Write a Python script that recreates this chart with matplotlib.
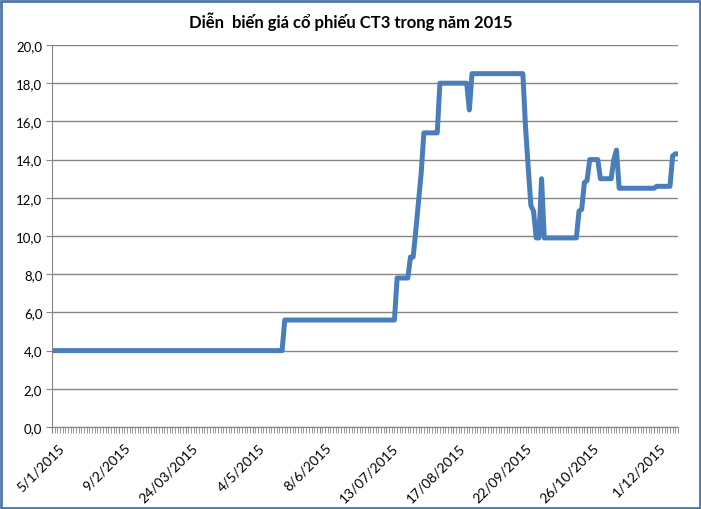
import numpy as np
import matplotlib
matplotlib.use("Agg")
import matplotlib.pyplot as plt
import matplotlib.transforms as mtransforms
from matplotlib.patches import Rectangle

# Giá cổ phiếu CT3 (nghìn đồng), theo phiên giao dịch
muc_gia = [4.0, 5.6, 7.8, 8.9, 10.3, 11.8, 13.3, 15.4, 18.0, 16.6, 18.5,
           15.7, 13.6, 11.6, 11.3, 9.9, 13.0, 9.9, 11.3, 11.4, 12.8, 12.9,
           14.0, 13.0, 14.0, 14.5, 12.5, 12.6, 14.2, 14.3]
so_phien = [87, 42, 5, 2, 1, 1, 1, 6, 11, 1, 20,
            1, 1, 1, 1, 2, 1, 13, 1, 1, 1, 1,
            4, 5, 1, 1, 14, 6, 1, 2]

nhan_ngay = ["5/1/2015", "9/2/2015", "24/03/2015", "4/5/2015", "8/6/2015",
             "13/07/2015", "17/08/2015", "22/09/2015", "26/10/2015", "1/12/2015"]
buoc_nhan = 25

y_ticks = [0, 2, 4, 6, 8, 10, 12, 14, 16, 18, 20]
y_labels = ["0,0", "2,0", "4,0", "6,0", "8,0", "10,0", "12,0", "14,0",
            "16,0", "18,0", "20,0"]

gia = np.repeat(muc_gia, so_phien)
phien = np.arange(len(gia))

plt.rcParams['font.family'] = ['Lato', 'DejaVu Sans']

fig = plt.figure(figsize=(7.01, 5.10), dpi=100)
ax = fig.add_axes([0.0742, 0.1608, 0.8930, 0.7490])

ax.plot(phien, gia, color="#4A7EBB", linewidth=3.6, solid_joinstyle="round",
        solid_capstyle="butt")

ax.set_xlim(0, len(gia) - 1)
ax.set_ylim(0, 20)
ax.set_yticks(y_ticks)
ax.set_yticklabels(y_labels, fontsize=9.5)
ax.yaxis.grid(True, color="#868686", linewidth=1)
ax.set_axisbelow(True)

ax.set_xticks(np.arange(len(nhan_ngay)) * buoc_nhan)
ax.set_xticklabels(nhan_ngay, fontsize=10, rotation=45, ha="right",
                   rotation_mode="anchor")
ax.set_xticks(phien, minor=True)
ax.tick_params(axis="x", which="both", length=4, color="#868686", pad=6)
ax.tick_params(axis="y", length=4, color="#868686", pad=3)

# dịch nhãn ngày sang phải một chút như Excel
dich = mtransforms.ScaledTranslation(4 / 72, 0, fig.dpi_scale_trans)
for lbl in ax.get_xticklabels():
    lbl.set_transform(lbl.get_transform() + dich)

for s in ["top", "right"]:
    ax.spines[s].set_visible(False)
for s in ["left", "bottom"]:
    ax.spines[s].set_color("#868686")

fig.text(0.5, 0.957, "Diễn  biến giá cổ phiếu CT3 trong năm 2015",
         ha="center", va="center", fontsize=12, fontweight="bold")

fig.patches.append(Rectangle((0.001, 0.001), 0.997, 0.996, transform=fig.transFigure,
                             fill=False, edgecolor="#4F77A8", linewidth=2))

fig.savefig("out.png", dpi=100)
